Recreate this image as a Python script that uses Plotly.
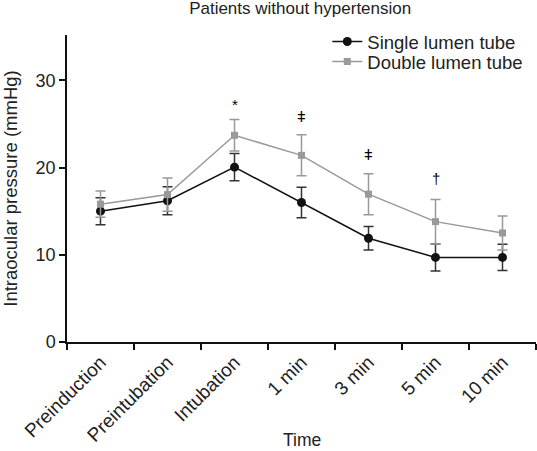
import plotly.graph_objects as go

categories = ["Preinduction", "Preintubation", "Intubation", "1 min", "3 min", "5 min", "10 min"]
single_mean = [15.0, 16.2, 20.05, 16.0, 11.9, 9.7, 9.7]
single_err = [1.55, 1.6, 1.55, 1.75, 1.35, 1.55, 1.5]
double_mean = [15.8, 16.9, 23.7, 21.4, 16.95, 13.8, 12.5]
double_err = [1.5, 1.9, 1.8, 2.35, 2.35, 2.55, 1.95]
sig_marks = ["*", "ǂ", "ǂ", "†"]
sig_cats = ["Intubation", "1 min", "3 min", "5 min"]
sig_y = [27.2, 25.8, 21.5, 18.7]

FONT = "Liberation Sans, Arial, sans-serif"

fig = go.Figure()
fig.add_trace(go.Scatter(
    x=categories, y=single_mean, name="Single lumen tube", mode="lines+markers",
    line=dict(color="#111111", width=1.5),
    marker=dict(symbol="circle", size=9, color="#111111"),
    error_y=dict(type="data", array=single_err, visible=True, color="#333333",
                 thickness=1.5, width=5),
    legend="legend",
))
fig.add_trace(go.Scatter(
    x=categories, y=double_mean, name="Double lumen tube", mode="lines+markers",
    line=dict(color="#999999", width=1.5),
    marker=dict(symbol="square", size=7, color="#999999"),
    error_y=dict(type="data", array=double_err, visible=True, color="#999999",
                 thickness=1.5, width=5),
    legend="legend2",
))

for c, t, yv in zip(sig_cats, sig_marks, sig_y):
    fig.add_annotation(x=c, y=yv, text=t, showarrow=False, xref="x", yref="y",
                       font=dict(family=FONT, size=15, color="black"))

fig.add_annotation(text="Time", x=0.5, xref="paper", y=-(440 - 342) / 307, yref="paper",
                   yanchor="middle", showarrow=False,
                   font=dict(family=FONT, size=17.5, color="#222222"))

leg_common = dict(xanchor="left", yanchor="middle", bgcolor="rgba(0,0,0,0)",
                  font=dict(family=FONT, size=18.5, color="#222222"), itemwidth=30)

fig.update_layout(
    width=537, height=451,
    margin=dict(l=67, r=1, t=35, b=109, autoexpand=False),
    paper_bgcolor="white", plot_bgcolor="white",
    font=dict(family=FONT, size=17, color="#222222"),
    title=dict(text="Patients without hypertension", x=0.559, xanchor="center",
               y=0.982, yanchor="middle", font=dict(family=FONT, size=17, color="#222222")),
    showlegend=True,
    legend=dict(x=0.555, y=1 + (35 - 42) / 307, **leg_common),
    legend2=dict(x=0.555, y=1 + (35 - 62) / 307, **leg_common),
)
fig.update_xaxes(
    type="category", range=[-0.5, 6.5], tickson="boundaries", automargin=False,
    showline=True, linecolor="#111111", linewidth=1.5,
    ticks="outside", ticklen=6, tickcolor="#111111", tickwidth=1.5,
    tickangle=-45, showgrid=False, zeroline=False,
    tickfont=dict(size=19),
)
fig.update_yaxes(
    range=[0, 35.2], tickvals=[0, 10, 20, 30], automargin=False,
    showline=True, linecolor="#111111", linewidth=1.5,
    ticks="outside", ticklen=6, tickcolor="#111111", tickwidth=1.5,
    showgrid=False, zeroline=False,
    title=dict(text="Intraocular pressure (mmHg)", standoff=14, font=dict(size=18.5)),
    tickfont=dict(size=18),
)

fig.write_html("out.html", config={"displayModeBar": False},
               post_script="document.body.style.margin='0';document.body.style.padding='0';")
